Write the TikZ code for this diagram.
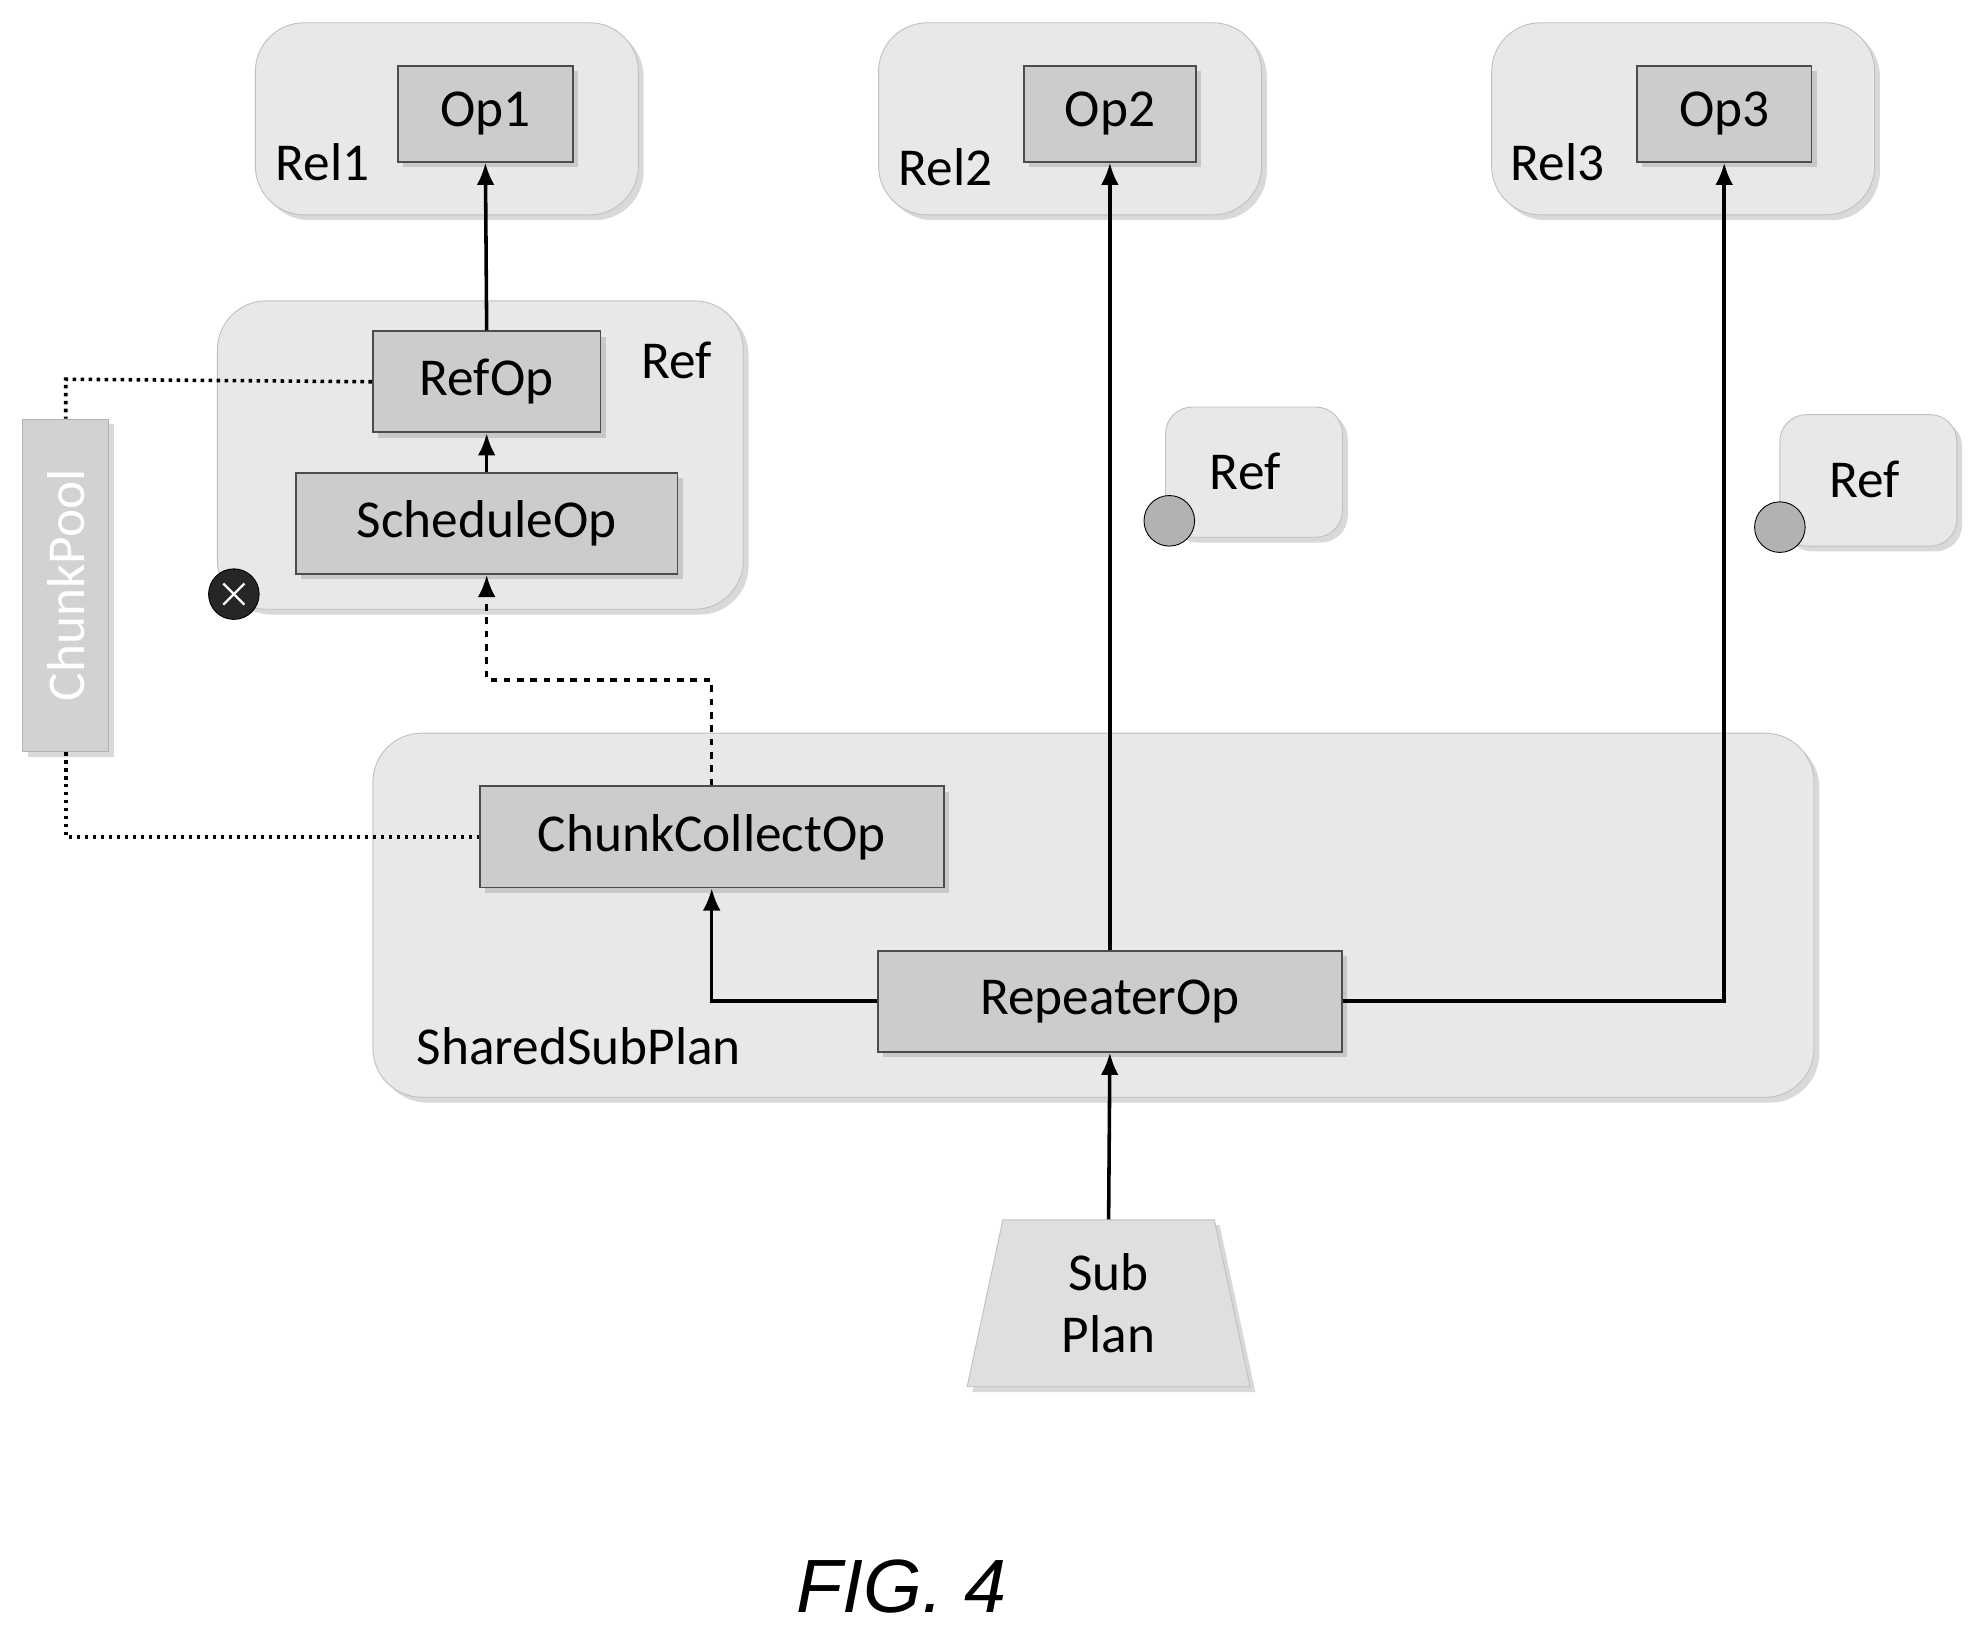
\documentclass[tikz,border=0pt]{standalone}
\usepackage{fontspec}
\setmainfont{Carlito}
\newfontfamily\figfont{Liberation Sans}
\usetikzlibrary{shadows,arrows.meta,shapes.geometric,calc}
\begin{document}
\begin{tikzpicture}[x=0.02cm,y=-0.02cm,
  grp/.style={draw=gray!50,fill=gray!18,rounded corners=22,drop shadow={opacity=0.3}},
  op/.style={draw=black!70,fill=gray!40,line width=0.8pt,drop shadow={opacity=0.3}},
  txt/.style={font=\fontsize{24}{28}\selectfont},
  arr/.style={line width=1.6pt,-{Latex[length=10pt,width=8pt]}},
  dot/.style={line width=1.6pt,dotted},
  every node/.style={txt}]
\useasboundingbox (0,0) rectangle (1560,1285);
% groups
\draw[grp] (202,18) rectangle (505,170);
\draw[grp] (695,18) rectangle (998,170);
\draw[grp] (1180,18) rectangle (1483,170);
\draw[grp] (172,238) rectangle (588,482);
\draw[grp] (295,580) rectangle (1435,868);
\draw[grp,rounded corners=12] (922,322) rectangle (1062,425);
\draw[grp,rounded corners=12] (1408,328) rectangle (1548,432);
\node (rel1) at (255,128) {Rel1};
\node (rel2) at (748,132) {Rel2};
\node (rel3) at (1232,128) {Rel3};
\node (refl) at (535,285) {Ref};
\node (ref2) at (985,373) {Ref};
\node (ref3) at (1475,379) {Ref};
\node (ssp) at (458,828) {SharedSubPlan};
% op boxes
\node[op,minimum width=138*0.02cm,minimum height=76*0.02cm] (op1) at (384,90) {Op1};
\node[op,minimum width=136*0.02cm,minimum height=76*0.02cm] (op2) at (878,90) {Op2};
\node[op,minimum width=138*0.02cm,minimum height=76*0.02cm] (op3) at (1364,90) {Op3};
\node[op,minimum width=180*0.02cm,minimum height=80*0.02cm] (refop) at (385,302) {RefOp};
\node[op,minimum width=302*0.02cm,minimum height=80*0.02cm] (sched) at (385,414) {ScheduleOp};
\node[op,minimum width=367*0.02cm,minimum height=80*0.02cm] (cc) at (563,662) {ChunkCollectOp};
\node[op,minimum width=367*0.02cm,minimum height=80*0.02cm] (rep) at (878,792) {RepeaterOp};
\node[draw=gray!60,fill=gray!35,minimum width=68*0.02cm,minimum height=263*0.02cm,drop shadow={opacity=0.3}] (pool) at (52,463) {};
\node[rotate=90,text=white] at (52,463) {ChunkPool};
\node[draw=gray!50,fill=gray!25,trapezium,trapezium angle=81,minimum width=225*0.02cm,minimum height=132*0.02cm,align=center,trapezium stretches=true,inner sep=0pt,drop shadow={opacity=0.3}] (sub) at (877,1031) {Sub\\Plan};
% circles
\node[circle,draw=black,fill=black!85,minimum size=40*0.02cm,inner sep=0] (x1) at (185,470) {};
\draw[white,line width=1pt] ($(x1.north west)+(6,6)$) -- ($(x1.south east)+(-6,-6)$);
\draw[white,line width=1pt] ($(x1.north east)+(-6,6)$) -- ($(x1.south west)+(6,-6)$);
\node[circle,draw=black,fill=gray!60,minimum size=40*0.02cm,inner sep=0] (c2) at (925,412) {};
\node[circle,draw=black,fill=gray!60,minimum size=40*0.02cm,inner sep=0] (c3) at (1408,417) {};
% arrows
\draw[arr] (refop.north) -- (op1.south);
\draw[arr] (sched.north) -- (refop.south);
\draw[arr,dashed] (cc.north) -- (563,538) -- (385,538) -- (sched.south);
\draw[arr] (rep.west) -- (563,792) -- (cc.south);
\draw[arr] (rep.north) -- (op2.south);
\draw[arr] (rep.east) -- (1364,792) -- (op3.south);
\draw[arr] (sub.north) -- (rep.south);
\draw[dot] (refop.west) -- (52,300) -- (pool.north);
\draw[dot] (pool.south) -- (52,662) -- (cc.west);
\node[font=\figfont\itshape\fontsize{34}{40}\selectfont] (fig) at (713,1255) {FIG. 4};
\end{tikzpicture}
\end{document}
